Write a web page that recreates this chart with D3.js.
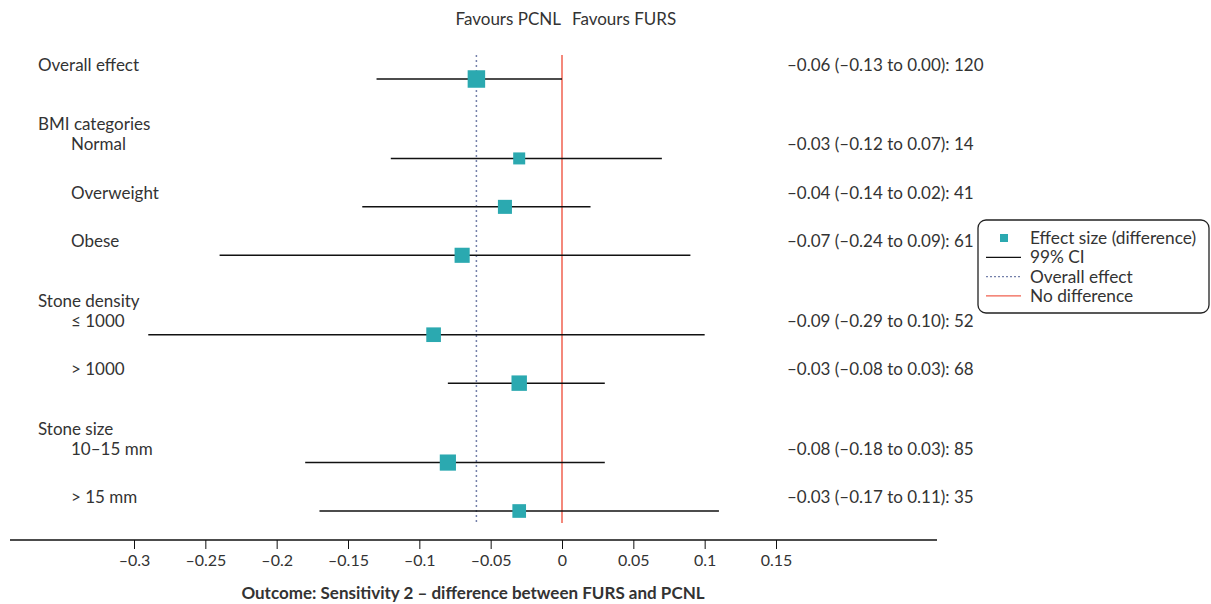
<!DOCTYPE html>
<html>
<head>
<meta charset="utf-8">
<script src="https://cdnjs.cloudflare.com/ajax/libs/d3/7.8.5/d3.min.js"></script>
<style>
  html, body { margin: 0; padding: 0; background: #fff; }
  svg { display: block; font-family: Lato, "Open Sans", sans-serif; }
</style>
</head>
<body>
<svg id="chart" width="1211" height="604"></svg>
<script>
// Forest plot data: subgroup rows, point estimates, 99% CI bounds and n
const rowLabels = ["Overall effect", "Normal", "Overweight", "Obese", "\u2264 1000", "> 1000", "10\u201315 mm", "> 15 mm"];
const groupOf   = ["", "BMI categories", "BMI categories", "BMI categories", "Stone density", "Stone density", "Stone size", "Stone size"];
const estimates = [-0.06, -0.03, -0.04, -0.07, -0.09, -0.03, -0.08, -0.03];
const lower     = [-0.13, -0.12, -0.14, -0.24, -0.29, -0.08, -0.18, -0.17];
const upper     = [0.00, 0.07, 0.02, 0.09, 0.10, 0.03, 0.03, 0.11];
const counts    = [120, 14, 41, 61, 52, 68, 85, 35];
const tickValues = [-0.3, -0.25, -0.2, -0.15, -0.1, -0.05, 0, 0.05, 0.1, 0.15];
const tickLabels = ["\u20130.3", "\u20130.25", "\u20130.2", "\u20130.15", "\u20130.1", "\u20130.05", "0", "0.05", "0.1", "0.15"];
const overallEffect = -0.06;

const svg = d3.select("#chart");
const textColor = "#333";
const teal = "#2ba9b0";
const red = "#f0604f";
const dotted = "#7480aa";
const fs = 17;

// Horizontal scale for the effect size
const x = d3.scaleLinear().domain([-0.3, 0.15]).range([134, 776]);
const axisLeft = 10, axisRight = 937;

// Vertical layout: one unit per row, plus a partial unit for each group header
const headerGap = 0.64;
const slots = [];
const headers = [];
let s = 0;
rowLabels.forEach((lab, i) => {
  if (i > 0) s += 1;
  if (groupOf[i] !== "" && groupOf[i] !== groupOf[i - 1]) {
    s += headerGap;
    headers.push({ label: groupOf[i], slot: s });
  }
  slots.push(s);
});
const y = d3.scaleLinear().domain([0, slots[slots.length - 1]]).range([79, 511]);

const fmt = v => (v < 0 ? "\u2013" : "") + Math.abs(v).toFixed(2);
const size = d3.scaleLinear().domain([Math.sqrt(14), Math.sqrt(120)]).range([12, 17.5]);

// Favours header
svg.append("text").attr("x", x(0) - 1).attr("y", 25).attr("text-anchor", "end")
  .attr("font-size", fs).attr("fill", textColor).text("Favours PCNL");
svg.append("text").attr("x", x(0) + 10).attr("y", 25).attr("text-anchor", "start")
  .attr("font-size", fs).attr("fill", textColor).text("Favours FURS");

// Reference lines
const yTop = 55, yBot = 523;
svg.append("line").attr("x1", x(overallEffect)).attr("x2", x(overallEffect))
  .attr("y1", yTop).attr("y2", yBot).attr("stroke", dotted).attr("stroke-width", 1.5)
  .attr("stroke-dasharray", "2,3");
svg.append("line").attr("x1", x(0)).attr("x2", x(0))
  .attr("y1", yTop).attr("y2", yBot).attr("stroke", red).attr("stroke-width", 1.5);

// Group headers
headers.forEach(h => {
  svg.append("text").attr("x", 38).attr("y", y(h.slot) - 28)
    .attr("font-size", fs).attr("fill", textColor).text(h.label);
});

// Rows: label, CI line, square sized by n, value text
rowLabels.forEach((lab, i) => {
  const cy = y(slots[i]);
  const indent = groupOf[i] === "" ? 38 : 71;
  svg.append("text").attr("x", indent).attr("y", cy - 8)
    .attr("font-size", fs).attr("fill", textColor).text(lab);
  svg.append("text").attr("x", 787).attr("y", cy - 8)
    .attr("font-size", fs).attr("fill", textColor)
    .text(`${fmt(estimates[i])} (${fmt(lower[i])} to ${fmt(upper[i])}): ${counts[i]}`);
  svg.append("line").attr("x1", x(lower[i])).attr("x2", x(upper[i]))
    .attr("y1", cy).attr("y2", cy).attr("stroke", "#111").attr("stroke-width", 1.5);
  const sz = size(Math.sqrt(counts[i]));
  svg.append("rect").attr("x", x(estimates[i]) - sz / 2).attr("y", cy - sz / 2)
    .attr("width", sz).attr("height", sz).attr("fill", teal);
});

// Axis
const axisY = 540;
svg.append("line").attr("x1", axisLeft).attr("x2", axisRight).attr("y1", axisY).attr("y2", axisY)
  .attr("stroke", "#111").attr("stroke-width", 1.5);
const axis = d3.axisBottom(x).tickValues(tickValues)
  .tickFormat((d, i) => tickLabels[i]).tickSize(9).tickPadding(6);
const gAxis = svg.append("g").attr("transform", `translate(0,${axisY})`).call(axis);
gAxis.select(".domain").remove();
gAxis.selectAll(".tick line").attr("stroke", "#111").attr("stroke-width", 1);
gAxis.selectAll(".tick text").attr("font-size", 16).attr("fill", textColor)
  .attr("font-family", "Lato, sans-serif");

svg.append("text").attr("x", 473).attr("y", 599).attr("text-anchor", "middle")
  .attr("font-size", 17).attr("font-weight", "bold").attr("fill", textColor)
  .text("Outcome: Sensitivity 2 \u2013 difference between FURS and PCNL");

// Legend
const lg = svg.append("g").attr("transform", "translate(978,220)");
lg.append("rect").attr("width", 231).attr("height", 93).attr("rx", 8).attr("ry", 8)
  .attr("fill", "#fff").attr("stroke", "#222").attr("stroke-width", 1.3);
const items = [
  { label: "Effect size (difference)", kind: "square" },
  { label: "99% CI", kind: "ci" },
  { label: "Overall effect", kind: "dot" },
  { label: "No difference", kind: "red" }
];
items.forEach((it, i) => {
  const ly = 18 + i * 19.3;
  if (it.kind === "square") {
    lg.append("rect").attr("x", 22).attr("y", ly - 4).attr("width", 8).attr("height", 8).attr("fill", teal);
  } else {
    const ln = lg.append("line").attr("x1", 8).attr("x2", 43).attr("y1", ly).attr("y2", ly);
    if (it.kind === "ci") ln.attr("stroke", "#111").attr("stroke-width", 1.3);
    if (it.kind === "dot") ln.attr("stroke", dotted).attr("stroke-width", 1.3).attr("stroke-dasharray", "2,2");
    if (it.kind === "red") ln.attr("stroke", red).attr("stroke-width", 1.2);
  }
  lg.append("text").attr("x", 52).attr("y", ly + 6).attr("font-size", 17.3).attr("fill", textColor).text(it.label);
});
</script>
</body>
</html>
